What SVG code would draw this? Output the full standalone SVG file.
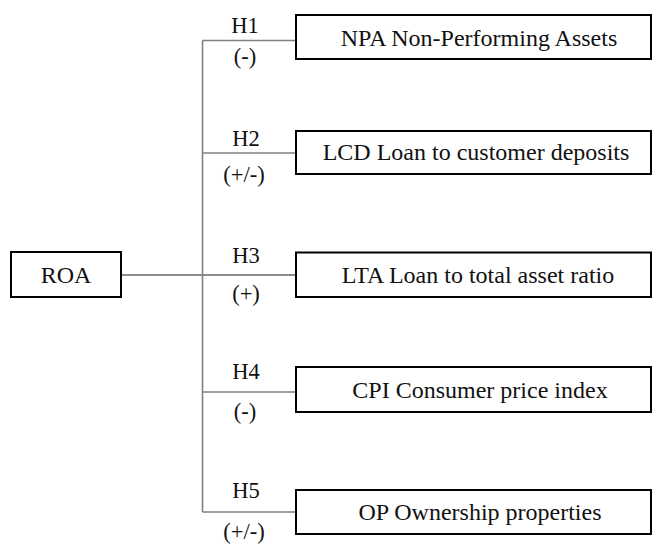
<svg xmlns="http://www.w3.org/2000/svg" width="653" height="544" viewBox="0 0 653 544">
  <style>
    .box { fill: #ffffff; stroke: #000000; stroke-width: 2; }
    .txt { font-family: "Liberation Serif", "Times New Roman", serif; font-size: 24px; fill: #111111; text-anchor: middle; }
    .lbl { font-family: "Liberation Serif", "Times New Roman", serif; font-size: 22.5px; fill: #111111; text-anchor: middle; }
    .branch { stroke: #808080; stroke-width: 1.6; fill: none; }
    .main { stroke: #1a1a1a; stroke-width: 1.2; fill: none; }
  </style>
  <rect width="653" height="544" fill="#ffffff"/>

  <!-- connectors -->
  <g id="connectors">
    <line class="main" x1="121" y1="275" x2="296" y2="275"/>
    <line class="branch" x1="202.5" y1="40.5" x2="202.5" y2="512"/>
    <line class="branch" x1="202.5" y1="40.5" x2="296" y2="40.5"/>
    <line class="branch" x1="202.5" y1="153" x2="296" y2="153"/>
    <line class="branch" x1="202.5" y1="392" x2="296" y2="392"/>
    <line class="branch" x1="202.5" y1="512" x2="296" y2="512"/>
    <!-- hypothesis labels -->
    <text class="lbl" x="245" y="33">H1</text>
    <text class="lbl" x="245" y="64">(-)</text>
    <text class="lbl" x="246" y="146">H2</text>
    <text class="lbl" x="244" y="182">(+/-)</text>
    <text class="lbl" x="246" y="263">H3</text>
    <text class="lbl" x="246" y="301">(+)</text>
    <text class="lbl" x="246" y="379">H4</text>
    <text class="lbl" x="245" y="419">(-)</text>
    <text class="lbl" x="246" y="498">H5</text>
    <text class="lbl" x="244" y="539">(+/-)</text>
  </g>

  <g id="roa">
    <rect class="box" x="11" y="252" width="110" height="45"/>
    <text class="txt" x="66" y="283">ROA</text>
  </g>

  <g id="npa">
    <rect class="box" x="296" y="15" width="355" height="44"/>
    <text class="txt" x="479" y="46">NPA Non-Performing Assets</text>
  </g>

  <g id="lcd">
    <rect class="box" x="296" y="131" width="355" height="43"/>
    <text class="txt" x="476" y="160">LCD Loan to customer deposits</text>
  </g>

  <g id="lta">
    <rect class="box" x="296" y="252.5" width="355" height="44.5"/>
    <text class="txt" x="478" y="283">LTA Loan to total asset ratio</text>
  </g>

  <g id="cpi">
    <rect class="box" x="296" y="367" width="355" height="45"/>
    <text class="txt" x="480" y="398">CPI Consumer price index</text>
  </g>

  <g id="op">
    <rect class="box" x="296" y="490" width="355" height="44"/>
    <text class="txt" x="480" y="520">OP Ownership properties</text>
  </g>
</svg>
